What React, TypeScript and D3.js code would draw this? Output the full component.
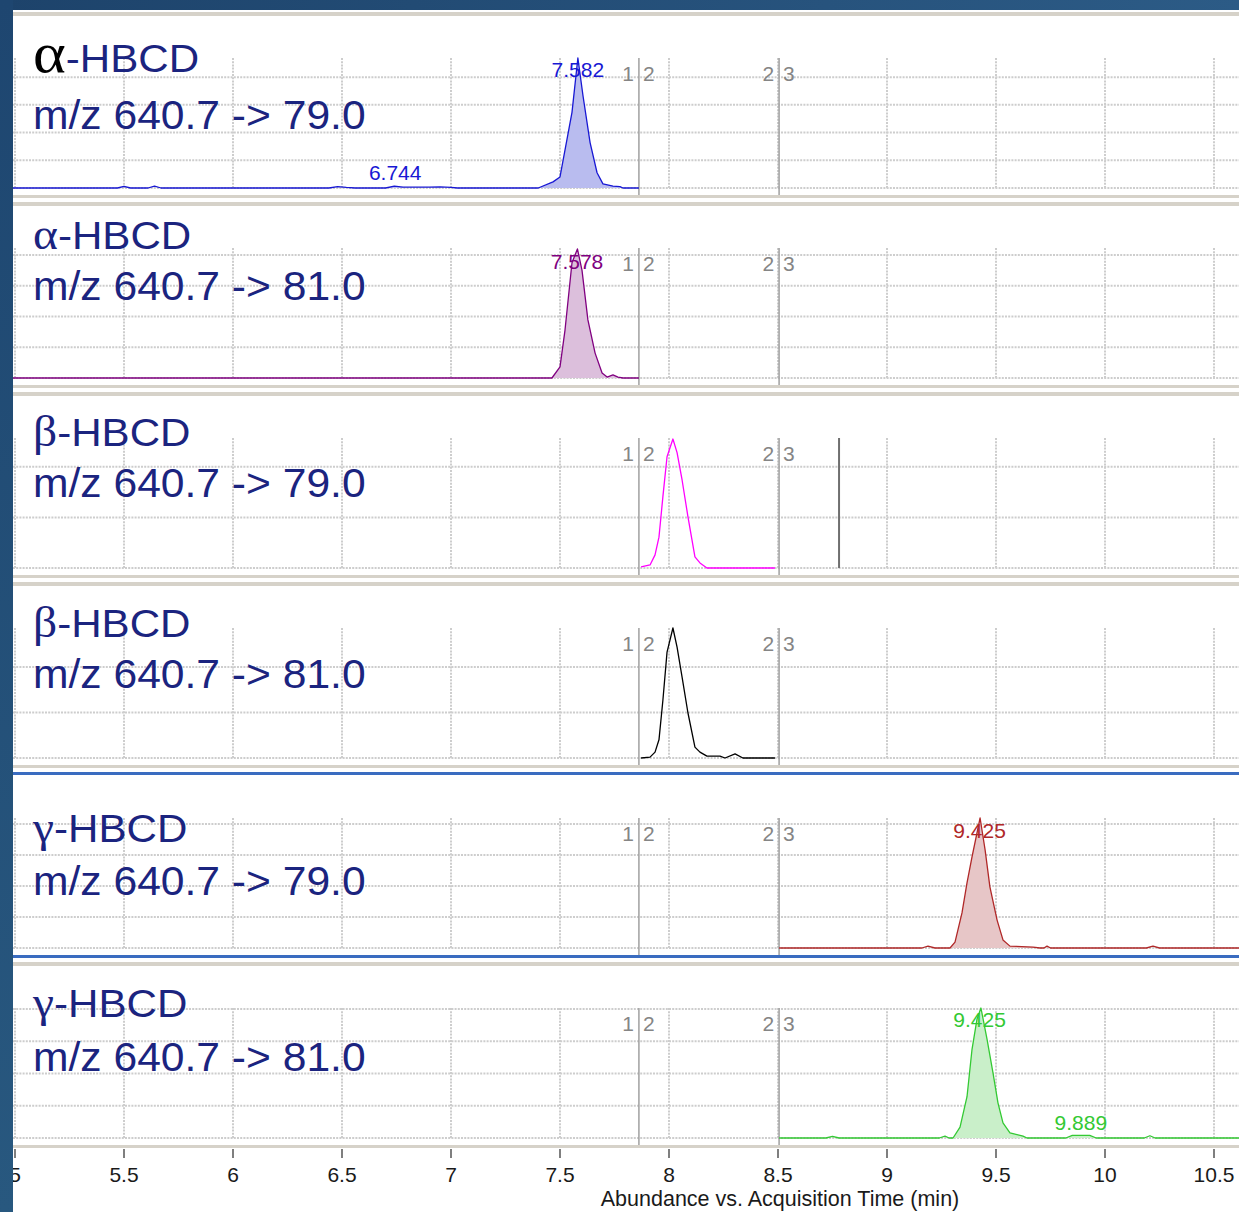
import React from "react";
import * as d3 from "d3";

type Pt = [number, number];

// ---------------- data ----------------
const xTickValues = [5, 5.5, 6, 6.5, 7, 7.5, 8, 8.5, 9, 9.5, 10, 10.5];
const xAxisTitle = "Abundance vs. Acquisition Time (min)";
const segmentDividers = [7.862, 8.505];
const dividerLabels: [string, string][] = [["1", "2"], ["2", "3"]];
const betaMarkerTime = 8.78;

const compounds = ["α", "α", "β", "β", "γ", "γ"];
const compoundSuffix = "-HBCD";
const precursor = "640.7";
const products = ["79.0", "81.0", "79.0", "81.0", "79.0", "81.0"];
const yMax = [4.69, 4.23, 2.57, 2.86, 4.19, 4.03];

const alpha79: Pt[] = [
  [4.99, 0], [5.47, 0], [5.5, 0.06], [5.53, 0], [5.61, 0], [5.64, 0.07], [5.67, 0],
  [6.44, 0], [6.48, 0.05], [6.52, 0.02], [6.56, 0], [6.7, 0], [6.74, 0.07], [6.78, 0.03],
  [6.9, 0.03], [6.95, 0.04], [7.0, 0.02], [7.03, 0], [7.4, 0], [7.468, 0.22], [7.5, 0.4],
  [7.532, 1.75], [7.555, 2.73], [7.582, 4.69], [7.606, 3.3], [7.638, 1.64], [7.67, 0.55],
  [7.697, 0.15], [7.743, 0.07], [7.775, 0.05], [7.789, 0], [7.862, 0],
];
const alpha81: Pt[] = [
  [4.99, 0], [7.463, 0], [7.5, 0.36], [7.523, 1.56], [7.555, 3.75], [7.58, 4.2],
  [7.601, 3.5], [7.628, 1.89], [7.661, 0.81], [7.693, 0.16], [7.716, 0.03], [7.743, 0.1],
  [7.766, 0.03], [7.789, 0], [7.862, 0],
];
const beta79: Pt[] = [
  [7.872, 0.02], [7.913, 0.06], [7.936, 0.26], [7.954, 0.61], [7.972, 1.41], [7.991, 2.2],
  [8.018, 2.55], [8.037, 2.28], [8.06, 1.74], [8.087, 1.01], [8.119, 0.22], [8.142, 0.1],
  [8.174, 0], [8.486, 0],
];
const beta81: Pt[] = [
  [7.872, 0], [7.913, 0.02], [7.936, 0.13], [7.954, 0.4], [7.972, 1.27], [7.991, 2.33],
  [8.018, 2.86], [8.037, 2.44], [8.06, 1.78], [8.087, 0.99], [8.119, 0.24], [8.142, 0.13],
  [8.174, 0.04], [8.234, 0.04], [8.257, 0], [8.303, 0.09], [8.339, 0], [8.486, 0],
];
const gamma79: Pt[] = [
  [8.505, 0], [9.16, 0], [9.188, 0.06], [9.22, 0], [9.289, 0], [9.312, 0.19], [9.344, 1.13],
  [9.367, 2.1], [9.39, 2.94], [9.427, 4.19], [9.45, 3.16], [9.472, 1.97], [9.505, 0.9],
  [9.532, 0.26], [9.564, 0.06], [9.67, 0.03], [9.702, 0], [9.72, 0], [9.734, 0.06],
  [9.75, 0], [10.19, 0], [10.22, 0.06], [10.25, 0], [10.62, 0],
];
const gamma81: Pt[] = [
  [8.505, 0], [8.72, 0], [8.75, 0.05], [8.78, 0], [9.24, 0], [9.266, 0.06], [9.285, 0],
  [9.303, 0], [9.335, 0.34], [9.367, 1.28], [9.39, 2.75], [9.413, 3.69], [9.431, 4.03],
  [9.459, 3.06], [9.486, 2.03], [9.509, 1.09], [9.532, 0.47], [9.564, 0.16], [9.624, 0.06],
  [9.642, 0], [9.82, 0], [9.85, 0.08], [9.93, 0.08], [9.96, 0], [10.18, 0], [10.206, 0.07],
  [10.23, 0], [10.62, 0],
];
const traces = [alpha79, alpha81, beta79, beta81, gamma79, gamma81];
const fillRanges: [number, number][][] = [
  [[6.7, 6.78], [7.4, 7.789]],
  [[7.463, 7.789]],
  [],
  [],
  [[9.289, 9.702]],
  [[9.303, 9.642], [9.82, 9.96]],
];

const labelPanels = [0, 0, 1, 4, 5, 5];
const labelTimes = [7.582, 6.744, 7.578, 9.425, 9.425, 9.889];
const labelValues = [4.0, 0.29, 3.55, 3.55, 3.44, 0.25];
const labelTexts = ["7.582", "6.744", "7.578", "9.425", "9.425", "9.889"];

// ---------------- styles / layout ----------------
const W = 1239;
const H = 1212;
const SANS = "'Liberation Sans', Arial, Helvetica, sans-serif";
const SERIF = "'Liberation Serif', 'Times New Roman', serif";
const NAVY = "#1b247f";
const traceColors = ["#1818d4", "#800080", "#ff00ff", "#000000", "#b02828", "#33c933"];
const fillColors = ["#b9bcef", "#dcbfdc", "none", "none", "#e7c6c7", "#c9efc9"];
const baselines = [188, 378, 568, 758, 948, 1138];
const plotH = 130;
const titleY = [72, 249, 446, 637, 842, 1017];
const mzY = [129, 300, 497, 688, 895, 1071];
const selectedPanel = 4;
const LEFT = 13;

export default function App() {
  const x = d3.scaleLinear().domain([5, 10.5]).range([15, 1214]);

  const panels = traces.map((data, i) => {
    const b = baselines[i];
    const y = d3.scaleLinear().domain([0, yMax[i]]).range([b, b - plotH]);
    const line = d3.line<Pt>().x((d) => x(d[0])).y((d) => y(d[1]));
    const area = d3
      .area<Pt>()
      .x((d) => x(d[0]))
      .y0(y(0))
      .y1((d) => y(d[1]));
    const gridVals = d3.range(0, Math.floor(yMax[i]) + 1);
    const selected = i === selectedPanel;
    return (
      <g key={i}>
        {/* panel borders */}
        <rect x={LEFT} y={b - 176} width={W - LEFT} height={selected ? 3 : 4}
          fill={selected ? "#3a6cc0" : "#d6d2c9"} />
        <rect x={LEFT} y={b + 7} width={W - LEFT} height={3}
          fill={selected ? "#3a6cc0" : "#d6d2c9"} />
        {/* grid */}
        {gridVals.map((v) => (
          <line key={`h${v}`} x1={LEFT} x2={W} y1={y(v)} y2={y(v)} stroke="#cdcdcd"
            strokeWidth={2} strokeDasharray="2,1.2" />
        ))}
        {xTickValues.map((t) => (
          <line key={`v${t}`} x1={x(t)} x2={x(t)} y1={b - plotH} y2={b} stroke="#cdcdcd"
            strokeWidth={2} strokeDasharray="2,1.2" />
        ))}
        {/* fills */}
        {fillColors[i] !== "none" &&
          fillRanges[i].map((r, k) => (
            <path key={`f${k}`} d={area(data.filter((d) => d[0] >= r[0] && d[0] <= r[1])) || ""}
              fill={fillColors[i]} stroke="none" />
          ))}
        {/* segment dividers */}
        {segmentDividers.map((t, k) => (
          <g key={`d${k}`}>
            <line x1={x(t)} x2={x(t)} y1={b - plotH} y2={b + 7} stroke="#a0a0a0" strokeWidth={1.5} />
            <text x={x(t) - 5} y={b - 107} textAnchor="end" fontSize={21} fontFamily={SANS}
              fill="#858585">{dividerLabels[k][0]}</text>
            <text x={x(t) + 4} y={b - 107} textAnchor="start" fontSize={21} fontFamily={SANS}
              fill="#858585">{dividerLabels[k][1]}</text>
          </g>
        ))}
        {i === 2 && (
          <line x1={x(betaMarkerTime)} x2={x(betaMarkerTime)} y1={b - plotH} y2={b}
            stroke="#6f6f6f" strokeWidth={2} />
        )}
        {/* trace */}
        <path d={line(data) || ""} fill="none" stroke={traceColors[i]} strokeWidth={1.3}
          strokeLinejoin="round" />
        {/* titles */}
        <g transform={`translate(33, ${titleY[i]}) scale(1.08, 1)`}>
          <text fontFamily={SANS} fontSize={39} fill={NAVY}>
            <tspan fontFamily={SERIF} fontSize={i === 0 ? 58 : 44} fill={i === 0 ? "#000" : NAVY}>
              {compounds[i]}
            </tspan>
            <tspan>{compoundSuffix}</tspan>
          </text>
        </g>
        <g transform={`translate(33, ${mzY[i]}) scale(1.065, 1)`}>
          <text fontFamily={SANS} fontSize={40} fill={NAVY}>
            {`m/z ${precursor} -> ${products[i]}`}
          </text>
        </g>
        {/* peak labels */}
        {labelPanels.map((p, k) =>
          p === i ? (
            <text key={`l${k}`} x={x(labelTimes[k])} y={y(labelValues[k])} textAnchor="middle"
              fontSize={21} fontFamily={SANS} fill={traceColors[i]}>{labelTexts[k]}</text>
          ) : null
        )}
      </g>
    );
  });

  return (
    <div style={{ position: "absolute", left: 0, top: 0, width: W, height: H }}>
      <svg width={W} height={H} style={{ display: "block" }}>
        <defs>
          <linearGradient id="bg" x1="0" x2="1" y1="0" y2="0">
            <stop offset="0" stopColor="#1d436b" />
            <stop offset="1" stopColor="#2c5b86" />
          </linearGradient>
          <linearGradient id="bgv" x1="0" x2="0" y1="0" y2="1">
            <stop offset="0" stopColor="#1e4670" />
            <stop offset="1" stopColor="#28587f" />
          </linearGradient>
        </defs>
        <rect x={0} y={0} width={W} height={H} fill="url(#bg)" />
        <rect x={LEFT} y={10} width={W - LEFT} height={H - 10} fill="#ffffff" />
        {panels}
        {/* x axis */}
        {xTickValues.map((t) => (
          <g key={`xt${t}`}>
            <line x1={x(t)} x2={x(t)} y1={1149} y2={1158} stroke="#555" strokeWidth={1.5} />
            <text x={x(t)} y={1182} textAnchor="middle" fontSize={21} fontFamily={SANS}
              fill="#1a1a1a">{String(t)}</text>
          </g>
        ))}
        <text x={780} y={1206} textAnchor="middle" fontSize={21.5} fontFamily={SANS} fill="#1a1a1a">
          {xAxisTitle}
        </text>
        {/* left dark band */}
        <rect x={0} y={0} width={LEFT} height={H} fill="url(#bgv)" />
      </svg>
    </div>
  );
}
